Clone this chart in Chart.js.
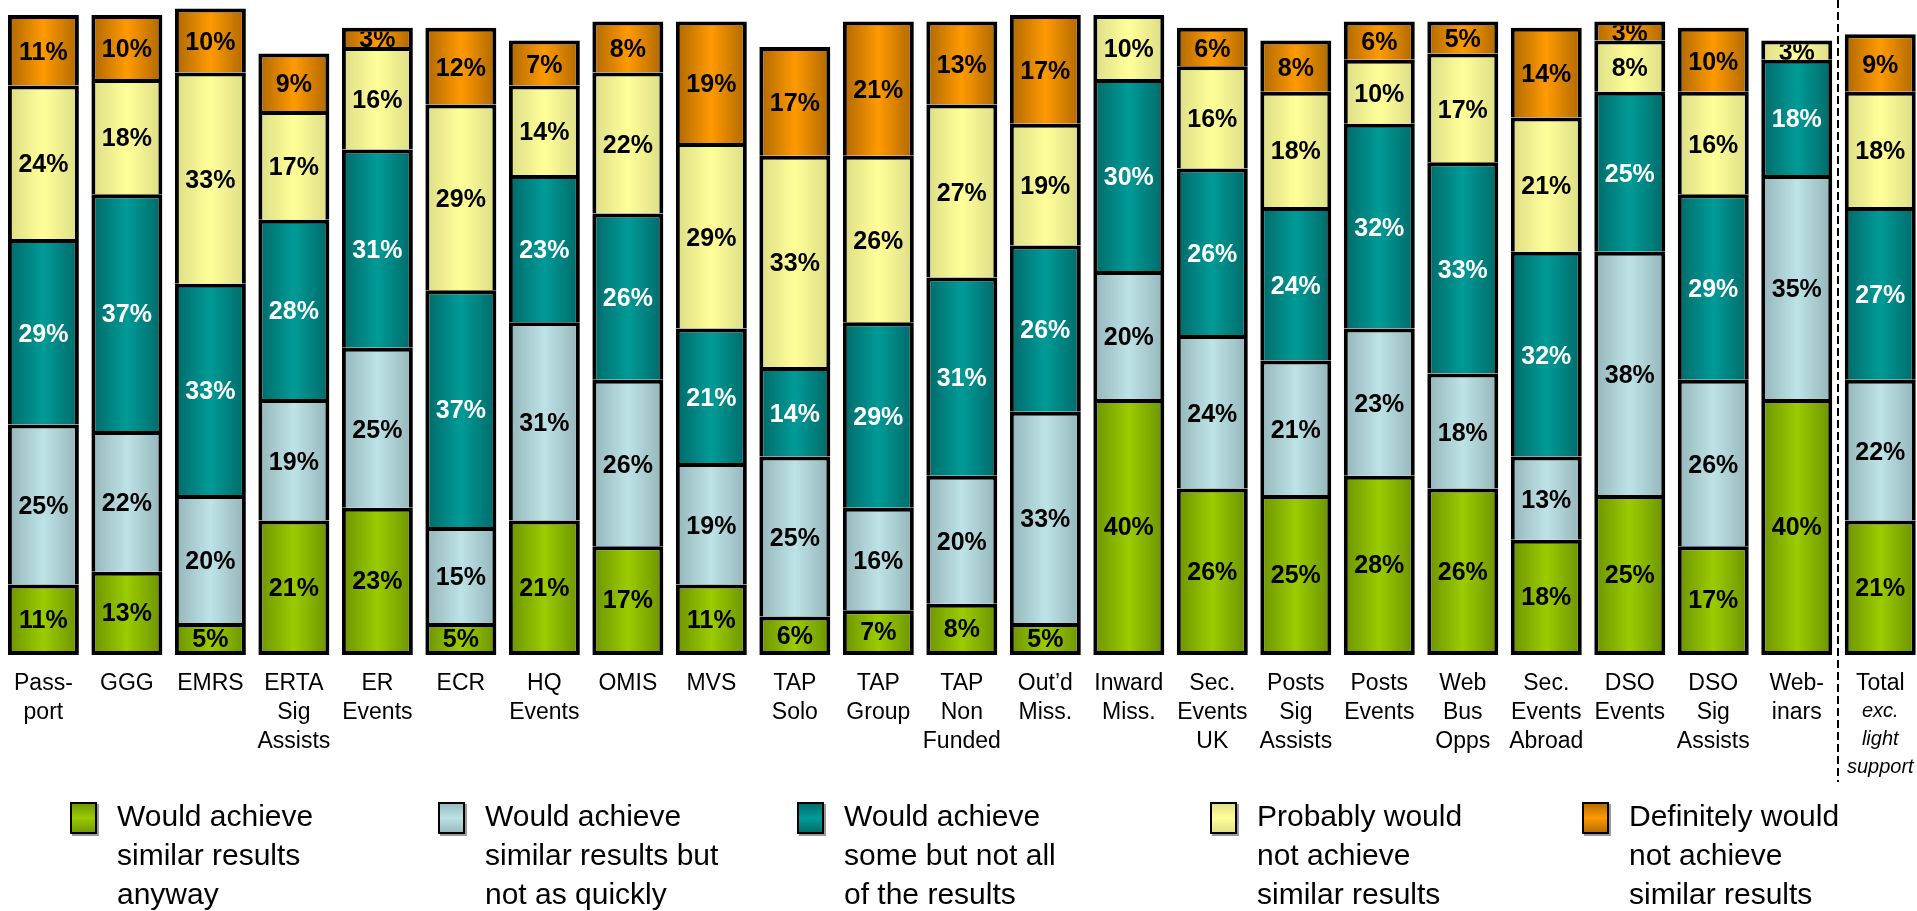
<!DOCTYPE html>
<html>
<head>
<meta charset="utf-8">
<script src="https://cdn.jsdelivr.net/npm/chart.js@4.4.1/dist/chart.umd.min.js"></script>
<style>
  html, body { margin: 0; padding: 0; background: #fff; overflow: hidden; }
  #wrap { width: 1922px; height: 911px; }
</style>
</head>
<body>
<div id="wrap"><canvas id="results"></canvas></div>
<script>
// Programmes along the x axis (each entry = lines of the tick label)
var categories = [
  ['Pass-', 'port'], ['GGG'], ['EMRS'], ['ERTA', 'Sig', 'Assists'], ['ER', 'Events'],
  ['ECR'], ['HQ', 'Events'], ['OMIS'], ['MVS'], ['TAP', 'Solo'], ['TAP', 'Group'],
  ['TAP', 'Non', 'Funded'], ['Out\u2019d', 'Miss.'], ['Inward', 'Miss.'], ['Sec.', 'Events', 'UK'],
  ['Posts', 'Sig', 'Assists'], ['Posts', 'Events'], ['Web', 'Bus', 'Opps'],
  ['Sec.', 'Events', 'Abroad'], ['DSO', 'Events'], ['DSO', 'Sig', 'Assists'], ['Web-', 'inars'], ['Total']
];
var totalNote = ['exc.', 'light', 'support'];

// Answer categories, bottom of the stack first
var seriesNames = [
  ['Would achieve', 'similar results', 'anyway'],
  ['Would achieve', 'similar results but', 'not as quickly'],
  ['Would achieve', 'some but not all', 'of the results'],
  ['Probably would', 'not achieve', 'similar results'],
  ['Definitely would', 'not achieve', 'similar results']
];

// % of respondents per programme
var similarAnyway = [11, 13, 5, 21, 23, 5, 21, 17, 11, 6, 7, 8, 5, 40, 26, 25, 28, 26, 18, 25, 17, 40, 21];
var similarSlower = [25, 22, 20, 19, 25, 15, 31, 26, 19, 25, 16, 20, 33, 20, 24, 21, 23, 18, 13, 38, 26, 35, 22];
var someNotAll    = [29, 37, 33, 28, 31, 37, 23, 26, 21, 14, 29, 31, 26, 30, 26, 24, 32, 33, 32, 25, 29, 18, 27];
var probablyNot   = [24, 18, 33, 17, 16, 29, 14, 22, 29, 33, 26, 27, 19, 10, 16, 18, 10, 17, 21, 8, 16, 3, 18];
var definitelyNot = [11, 10, 10, 9, 3, 12, 7, 8, 19, 17, 21, 13, 17, 0, 6, 8, 6, 5, 14, 3, 10, 0, 9];

var seriesValues = [similarAnyway, similarSlower, someNotAll, probablyNot, definitelyNot];

// [edge, centre] colours for the shaded fills
var seriesColors = [
  ['#6c9200', '#9acc00'],
  ['#94b5b9', '#bde3e6'],
  ['#006968', '#009b97'],
  ['#dcdc86', '#ffff99'],
  ['#ad6700', '#ff9a00']
];

var FONT = '"Liberation Sans", Arial, Helvetica, sans-serif';
var BAR_PCT = 0.85;
var legendX = [70, 438, 797, 1210, 1582];

function barFill(si) {
  return function (ctx) {
    var chart = ctx.chart;
    var x = chart.scales.x;
    if (!chart.chartArea || !x || ctx.dataIndex === undefined) return seriesColors[si][1];
    var cx = x.getPixelForValue(ctx.dataIndex);
    var half = x.width / categories.length * BAR_PCT / 2;
    var g = chart.ctx.createLinearGradient(cx - half, 0, cx + half, 0);
    g.addColorStop(0, seriesColors[si][0]);
    g.addColorStop(0.5, seriesColors[si][1]);
    g.addColorStop(1, seriesColors[si][0]);
    return g;
  };
}

// percentage written inside each segment
var segmentLabels = {
  id: 'segmentLabels',
  afterDatasetsDraw: function (chart) {
    var c = chart.ctx;
    c.save();
    c.font = 'bold 25px ' + FONT;
    c.textAlign = 'center';
    c.textBaseline = 'middle';
    chart.data.datasets.forEach(function (ds, di) {
      chart.getDatasetMeta(di).data.forEach(function (bar, i) {
        var v = ds.data[i];
        if (!v) return;
        var left = bar.x - bar.width / 2 + 4;
        var right = bar.x + bar.width / 2 - 4;
        var top = bar.y + 4;
        var bottom = di === 0 ? bar.base - 4 : bar.base;
        c.save();
        c.beginPath();
        c.rect(left, top, right - left, bottom - top);
        c.clip();
        c.fillStyle = di === 2 ? '#fff' : '#000';
        c.fillText(v + '%', bar.x, (top + bottom) / 2 + 1);
        c.restore();
      });
    });
    c.restore();
  }
};

// dashed divider before Total, italic note under Total, and the legend
var extras = {
  id: 'extras',
  afterDraw: function (chart) {
    var c = chart.ctx;
    var x = chart.scales.x;
    var last = categories.length - 1;

    c.save();
    c.strokeStyle = '#000';
    c.lineWidth = 2;
    c.setLineDash([8, 4]);
    var dx = Math.round(x.getPixelForValue(last - 0.5)) - 1;
    c.beginPath();
    c.moveTo(dx, 0);
    c.lineTo(dx, 782);
    c.stroke();
    c.restore();

    c.save();
    c.fillStyle = '#000';
    c.font = 'italic 20px ' + FONT;
    c.textAlign = 'center';
    c.textBaseline = 'middle';
    var tx = x.getPixelForValue(last);
    totalNote.forEach(function (t, k) {
      c.fillText(t, tx, 711 + k * 28);
    });
    c.restore();

    c.save();
    c.font = '30px ' + FONT;
    c.textBaseline = 'alphabetic';
    c.fillStyle = '#000';
    seriesNames.forEach(function (lines, si) {
      var bx = legendX[si], by = 802, bw = 27, bh = 32;
      c.fillStyle = '#9a9a9a';
      c.fillRect(bx + 2, by + 2, bw, bh);
      var g = c.createLinearGradient(0, by, 0, by + bh);
      g.addColorStop(0, seriesColors[si][0]);
      g.addColorStop(0.5, seriesColors[si][1]);
      g.addColorStop(1, seriesColors[si][0]);
      c.fillStyle = g;
      c.fillRect(bx, by, bw, bh);
      c.strokeStyle = '#000';
      c.lineWidth = 2;
      c.strokeRect(bx + 1, by + 1, bw - 2, bh - 2);
      c.fillStyle = '#000';
      lines.forEach(function (t, k) {
        c.fillText(t, bx + 47, 826 + k * 39);
      });
    });
    c.restore();
  }
};

var datasets = seriesValues.map(function (vals, si) {
  return {
    label: seriesNames[si].join(' '),
    data: vals,
    backgroundColor: barFill(si),
    borderColor: '#000',
    borderWidth: 4,
    borderSkipped: si === 0 ? false : 'start',
    categoryPercentage: BAR_PCT,
    barPercentage: 1,
    clip: false
  };
});

var ctx = document.getElementById('results').getContext('2d');
var chart = new Chart(ctx, {
  type: 'bar',
  data: {
    labels: categories,
    datasets: datasets
  },
  options: {
    responsive: true,
    maintainAspectRatio: false,
    animation: false,
    devicePixelRatio: 1,
    layout: { padding: { top: 15, left: 0, right: 0, bottom: 0 } },
    plugins: {
      legend: { display: false },
      tooltip: { enabled: false }
    },
    scales: {
      x: {
        stacked: true,
        grid: { display: false, drawTicks: false },
        border: { display: false },
        ticks: {
          color: '#000',
          autoSkip: false,
          maxRotation: 0,
          padding: 14,
          font: { family: FONT, size: 23, lineHeight: 1.26 }
        },
        afterFit: function (scale) { scale.height = 256; }
      },
      y: {
        stacked: true,
        display: false,
        min: 0,
        max: 100
      }
    }
  },
  plugins: [segmentLabels, extras]
});
</script>
</body>
</html>
